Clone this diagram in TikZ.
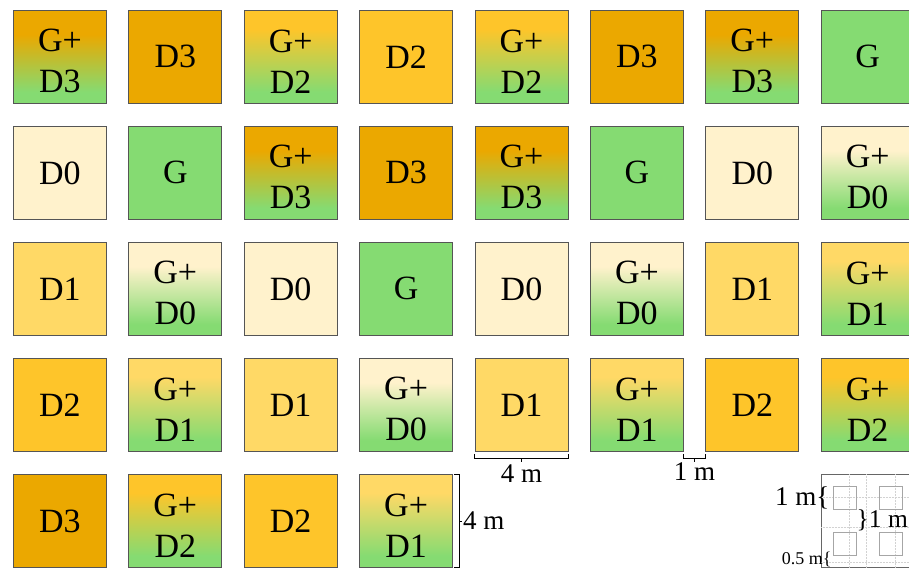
\documentclass[tikz,border=0pt]{standalone}
\usepackage{fontspec}
\setmainfont{Liberation Serif}
\usetikzlibrary{calc}
\definecolor{cD3}{HTML}{EBA800}
\definecolor{cD2}{HTML}{FEC52A}
\definecolor{cD1}{HTML}{FFD966}
\definecolor{cD0}{HTML}{FFF2CC}
\definecolor{cG}{HTML}{85DB72}
\definecolor{edgegray}{HTML}{555555}
\pgfdeclareverticalshading{shgD3}{100bp}{color(0bp)=(cG); color(31bp)=(cG); color(62bp)=(cD3); color(100bp)=(cD3)}
\pgfdeclareverticalshading{shgD2}{100bp}{color(0bp)=(cG); color(31bp)=(cG); color(65bp)=(cD2); color(100bp)=(cD2)}
\pgfdeclareverticalshading{shgD1}{100bp}{color(0bp)=(cG); color(31bp)=(cG); color(65bp)=(cD1); color(100bp)=(cD1)}
\pgfdeclareverticalshading{shgD0}{100bp}{color(0bp)=(cG); color(31bp)=(cG); color(62bp)=(cD0); color(100bp)=(cD0)}
\begin{document}
\begin{tikzpicture}[x=1pt,y=-1pt,
  lbl/.style={font=\fontsize{34}{41}\selectfont, align=center, inner sep=0pt},
  txt/.style={label={[lbl]center:{#1}}},
  txtt/.style={label={[lbl, yshift=-4.5pt]center:{#1}}},
  sq/.style={draw=edgegray, line width=0.8pt, minimum size=93pt, inner sep=0pt,
    anchor=north west},
  sD3/.style={fill=cD3, txt={D3}, node contents={}},
  sD2/.style={fill=cD2, txt={D2}, node contents={}},
  sD1/.style={fill=cD1, txt={D1}, node contents={}},
  sD0/.style={fill=cD0, txt={D0}, node contents={}},
  sG/.style={fill=cG, txt={G}, node contents={}},
  sgD3/.style={shade, shading=shgD3, txtt={G+\\D3}, node contents={}},
  sgD2/.style={shade, shading=shgD2, txtt={G+\\D2}, node contents={}},
  sgD1/.style={shade, shading=shgD1, txtt={G+\\D1}, node contents={}},
  sgD0/.style={shade, shading=shgD0, txtt={G+\\D0}, node contents={}},
  dim/.style={draw=black, line width=0.7pt},
  dimlabel/.style={font=\fontsize{27}{27}\selectfont, inner sep=1pt},
  smallsq/.style={draw=gray!70, line width=0.6pt, minimum size=23.25pt, inner sep=0pt, anchor=north west},
  gridline/.style={draw=gray!35, densely dotted, line width=0.5pt}
]
\useasboundingbox (0,0) rectangle (909,568);
\foreach \r/\row in {1/{sgD3,sD3,sgD2,sD2,sgD2,sD3,sgD3,sG},
                     2/{sD0,sG,sgD3,sD3,sgD3,sG,sD0,sgD0},
                     3/{sD1,sgD0,sD0,sG,sD0,sgD0,sD1,sgD1},
                     4/{sD2,sgD1,sD1,sgD0,sD1,sgD1,sD2,sgD2},
                     5/{sD3,sgD2,sD2,sgD1}}{
  \foreach \t [count=\c] in \row {
    \node[sq, name=n\r-\c, at={({13+115.4*(\c-1)}, {10+116*(\r-1)})}, \t];
  }
}
% horizontal 4 m bracket
\draw[dim] ($(n4-5.south west)+(0,2)$) -- ($(n4-5.south west)+(0,7)$) -- ($(n4-5.south east)+(0,7)$) -- ($(n4-5.south east)+(0,2)$);
\draw[dim] ($(n4-5.south)+(0,7)$) -- ($(n4-5.south)+(0,10)$);
\node[dimlabel] (lab4h) at ($(n4-5.south)+(0,22)$) {4 m};
% 1 m bracket
\draw[dim] ($(n4-6.south east)+(0,2)$) -- ($(n4-6.south east)+(0,7)$) -- ($(n4-7.south west)+(0,7)$) -- ($(n4-7.south west)+(0,2)$);
\draw[dim] ($(n4-6.south east)!0.5!(n4-7.south west)+(0,7)$) -- ($(n4-6.south east)!0.5!(n4-7.south west)+(0,10)$);
\node[dimlabel] (lab1h) at ($(n4-6.south east)!0.5!(n4-7.south west)+(0,20)$) {1 m};
% vertical 4 m bracket
\draw[dim] ($(n5-4.north east)+(1,0)$) -- ($(n5-4.north east)+(6,0)$) -- ($(n5-4.south east)+(6,0)$) -- ($(n5-4.south east)+(1,0)$);
\draw[dim] ($(n5-4.east)+(6,0)$) -- ($(n5-4.east)+(9,0)$);
\node[dimlabel, anchor=west] (lab4v) at ($(n5-4.east)+(9,0)$) {4 m};
% legend plot
\node[draw=gray!80!black, line width=0.8pt, minimum size=93pt, inner sep=0pt, anchor=north west] (plot) at (821,474) {};
\foreach \gx in {849,866.5,895} \draw[gridline] (\gx,474) -- (\gx,568);
\foreach \gy in {497.5,527,562} \draw[gridline] (821,\gy) -- (909,\gy);
\node[smallsq] (p11) at (832.6,485.6) {};
\node[smallsq] (p12) at (879.1,485.6) {};
\node[smallsq] (p21) at (832.6,532.1) {};
\node[smallsq] (p22) at (879.1,532.1) {};
\node[anchor=east, inner sep=0pt, font=\fontsize{27}{27}\selectfont] (lg1) at ($(p11.west)+(-3,0)$) {1 m\{};
\node[anchor=west, inner sep=0pt, font=\fontsize{25.5}{26}\selectfont] (lg2) at ($(p11.south east)!0.5!(p21.north east)+(0,0)$) {\}1 m};
\node[anchor=east, inner sep=0pt, font=\fontsize{18}{18}\selectfont] (lg3) at ($(p21.south west)+(-1,3)$) {0.5 m\{};
\end{tikzpicture}
\end{document}
